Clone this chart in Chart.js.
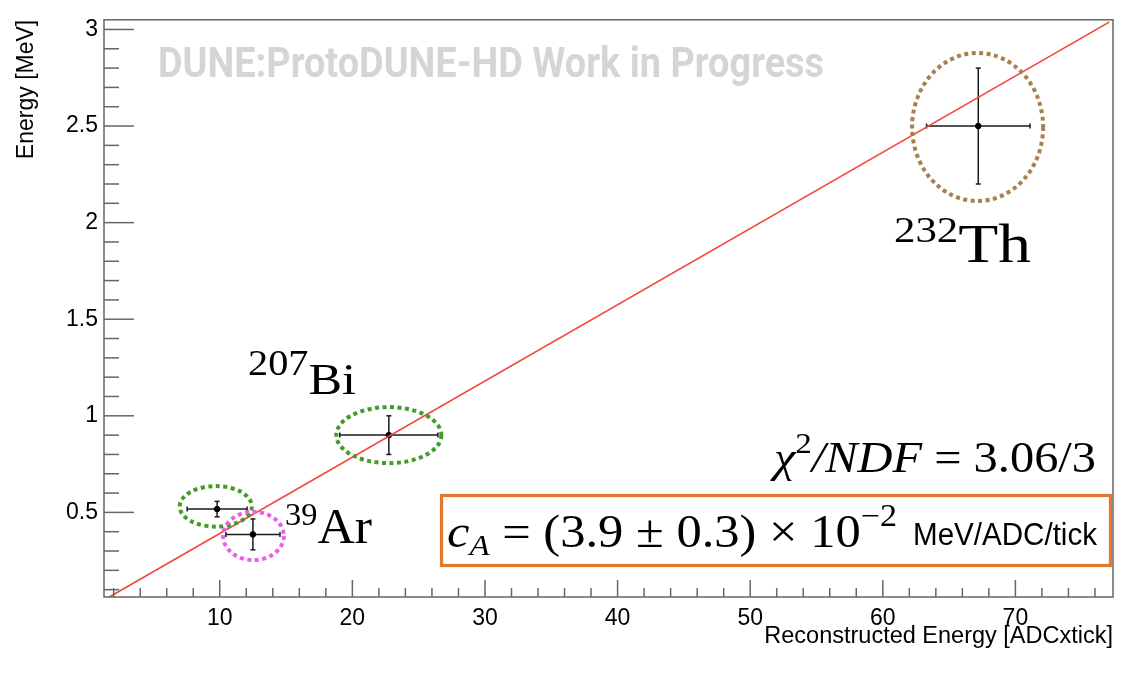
<!DOCTYPE html>
<html>
<head>
    <title>Energy calibration (ProtoDUNE-HD)</title>
    <script src="https://cdn.jsdelivr.net/npm/chart.js@4.4.0/dist/chart.umd.min.js"></script>
    <style>
        body { margin: 0; background: #fff; }
        canvas { display: block; }
    </style>
</head>
<body>
<canvas id="canvas" width="1130" height="676"></canvas>
<script>
    // measured peaks: reconstructed energy [ADC x tick] vs true energy [MeV]
    var pointX = [9.8, 12.5, 22.75, 67.2];
    var pointY = [0.517, 0.386, 0.90, 2.50];
    var errX = [2.26, 2.04, 3.7, 3.9];
    var errY = [0.04, 0.08, 0.10, 0.30];

    // linear fit, end points as drawn
    var fitX = [1.70, 77.07];
    var fitY = [0.063, 3.038];

    // dotted rings round the peaks (centre and half widths, data units)
    var ringX = [9.7, 12.54, 22.75, 67.15];
    var ringY = [0.531, 0.378, 0.90, 2.495];
    var ringDX = [2.72, 2.29, 3.96, 4.94];
    var ringDY = [0.105, 0.125, 0.145, 0.383];
    var ringColor = ['#449b27', '#ec5ced', '#449b27', '#a87f4f'];

    var xTicks = [10, 20, 30, 40, 50, 60, 70];
    var yTicks = [0.5, 1, 1.5, 2, 2.5, 3];

    var serif = '"Liberation Serif", "DejaVu Serif", serif';
    var sans = '"Liberation Sans", Arial, sans-serif';

    // draw a row of text pieces, squeezed/stretched to a given width
    function textRow(ctx, parts, x, base, width, color) {
        var total = 0;
        parts.forEach(function(p) {
            ctx.font = p.f;
            p.w = ctx.measureText(p.t).width;
            total += p.w;
        });
        var sx = width ? width / total : 1;
        ctx.save();
        ctx.fillStyle = color || '#000';
        ctx.textAlign = 'left';
        ctx.textBaseline = 'alphabetic';
        ctx.translate(x, base);
        ctx.scale(sx, 1);
        var cx = 0;
        parts.forEach(function(p) {
            ctx.font = p.f;
            ctx.fillText(p.t, cx, p.dy || 0);
            cx += p.w;
        });
        ctx.restore();
    }

    function seg(ctx, x1, y1, x2, y2) {
        ctx.beginPath();
        ctx.moveTo(x1, y1);
        ctx.lineTo(x2, y2);
        ctx.stroke();
    }

    var extras = {
        id: 'extras',
        beforeDatasetsDraw: function(chart) {
            var ctx = chart.ctx, xs = chart.scales.x, ys = chart.scales.y;
            textRow(ctx, [{t: 'DUNE:ProtoDUNE-HD Work in Progress', f: 'bold 43px Roboto'}], 158, 77, 666, '#d5d5d5');

            // error bars
            ctx.save();
            ctx.strokeStyle = '#1a1a1a';
            ctx.lineWidth = 1.5;
            for (var i = 0; i < pointX.length; i++) {
                var px = xs.getPixelForValue(pointX[i]), py = ys.getPixelForValue(pointY[i]);
                var x1 = xs.getPixelForValue(pointX[i] - errX[i]), x2 = xs.getPixelForValue(pointX[i] + errX[i]);
                var y1 = ys.getPixelForValue(pointY[i] - errY[i]), y2 = ys.getPixelForValue(pointY[i] + errY[i]);
                seg(ctx, x1, py, x2, py);
                seg(ctx, px, y1, px, y2);
                seg(ctx, x1, py - 2.5, x1, py + 2.5);
                seg(ctx, x2, py - 2.5, x2, py + 2.5);
                seg(ctx, px - 2.5, y1, px + 2.5, y1);
                seg(ctx, px - 2.5, y2, px + 2.5, y2);
            }
            ctx.restore();
        },
        afterDraw: function(chart) {
            var ctx = chart.ctx, xs = chart.scales.x, ys = chart.scales.y, a = chart.chartArea;
            ctx.save();

            // frame and inward ticks
            ctx.strokeStyle = '#666';
            ctx.lineWidth = 1.5;
            ctx.strokeRect(a.left, a.top, a.right - a.left, a.bottom - a.top);
            for (var v = 2; v < xs.max; v += 2) {
                var tx = xs.getPixelForValue(v);
                seg(ctx, tx, a.bottom, tx, a.bottom - (xTicks.indexOf(v) >= 0 ? 17 : 9));
            }
            for (var k = 1; k / 10 < ys.max; k++) {
                if (k / 10 < ys.min) continue;
                var ty = ys.getPixelForValue(k / 10);
                seg(ctx, a.left, ty, a.left + (k % 5 === 0 ? 30 : 15), ty);
            }

            // dotted rings
            ctx.setLineDash([4, 3.5]);
            ctx.lineWidth = 4;
            for (var i = 0; i < ringX.length; i++) {
                var cx = xs.getPixelForValue(ringX[i]), cy = ys.getPixelForValue(ringY[i]);
                var rx = xs.getPixelForValue(ringX[i] + ringDX[i]) - cx;
                var ry = cy - ys.getPixelForValue(ringY[i] + ringDY[i]);
                ctx.strokeStyle = ringColor[i];
                ctx.beginPath();
                ctx.ellipse(cx, cy, rx, ry, 0, 0, 2 * Math.PI);
                ctx.stroke();
            }
            ctx.setLineDash([]);

            // isotope labels
            textRow(ctx, [{t: '207', f: '36px ' + serif, dy: -19}, {t: 'Bi', f: '45px ' + serif}], 248, 394, 108);
            textRow(ctx, [{t: '39', f: '32px ' + serif, dy: -18}, {t: 'Ar', f: '51px ' + serif}], 285, 543, 87);
            textRow(ctx, [{t: '232', f: '36px ' + serif, dy: -20}, {t: 'Th', f: '55px ' + serif}], 894, 262, 137);

            // fit quality
            textRow(ctx, [
                {t: '\u03c7', f: 'italic 44px ' + serif},
                {t: '2', f: '30px ' + serif, dy: -19},
                {t: '/NDF', f: 'italic 44px ' + serif},
                {t: ' = 3.06/3', f: '44px ' + serif}
            ], 774, 472, 322);

            // calibration constant box
            ctx.strokeStyle = '#e2792f';
            ctx.lineWidth = 3.2;
            ctx.strokeRect(441.5, 495.5, 669, 70);
            textRow(ctx, [
                {t: 'c', f: 'italic 46px ' + serif},
                {t: 'A', f: 'italic 30px ' + serif, dy: 8},
                {t: ' = (3.9 \u00b1 0.3) \u00d7 10', f: '46px ' + serif},
                {t: '\u22122', f: '31px ' + serif, dy: -21}
            ], 447, 547, 450);
            textRow(ctx, [{t: 'MeV/ADC/tick', f: '31px ' + sans}], 913, 545, 184);

            ctx.restore();
        }
    };

    var points = [];
    for (var i = 0; i < pointX.length; i++) {
        points.push({x: pointX[i], y: pointY[i]});
    }
    var fitLine = [];
    for (var j = 0; j < fitX.length; j++) {
        fitLine.push({x: fitX[j], y: fitY[j]});
    }

    Chart.defaults.font.family = sans;
    Chart.defaults.color = '#000';

    var context = document.getElementById('canvas').getContext('2d');
    var calibChart = new Chart(context, {
        type: 'scatter',
        data: {
            datasets: [
                {
                    type: 'line',
                    data: fitLine,
                    borderColor: '#f2463c',
                    borderWidth: 1.6,
                    pointRadius: 0,
                    fill: false
                },
                {
                    data: points,
                    backgroundColor: '#000',
                    borderColor: '#000',
                    pointRadius: 2.8
                }
            ]
        },
        options: {
            responsive: false,
            animation: false,
            devicePixelRatio: 1,
            layout: { padding: { top: 18, right: 17, left: 0, bottom: 0 } },
            plugins: {
                legend: { display: false },
                tooltip: { enabled: false }
            },
            scales: {
                x: {
                    type: 'linear',
                    position: 'bottom',
                    min: 1.27,
                    max: 77.36,
                    grid: { display: false, drawTicks: false },
                    border: { display: false },
                    ticks: {
                        stepSize: 10,
                        includeBounds: false,
                        padding: 8,
                        maxRotation: 0,
                        autoSkip: false,
                        font: { size: 23 },
                        callback: function(v) { return xTicks.indexOf(v) >= 0 ? String(v) : ''; }
                    },
                    title: {
                        display: true,
                        text: 'Reconstructed Energy [ADCxtick]',
                        align: 'end',
                        font: { size: 23.5 },
                        padding: { top: 0, bottom: 25 }
                    },
                    afterFit: function(s) { s.height = 79; }
                },
                y: {
                    type: 'linear',
                    min: 0.062,
                    max: 3.05,
                    grid: { display: false, drawTicks: false },
                    border: { display: false },
                    ticks: {
                        stepSize: 0.5,
                        includeBounds: false,
                        padding: 6,
                        font: { size: 23 },
                        callback: function(v) { return yTicks.indexOf(v) >= 0 ? String(v) : ''; }
                    },
                    title: {
                        display: true,
                        text: 'Energy [MeV]',
                        align: 'end',
                        font: { size: 23 },
                        padding: { top: 13, bottom: 0 }
                    },
                    afterFit: function(s) { s.width = 104; }
                }
            }
        },
        plugins: [extras]
    });
</script>
</body>
</html>
